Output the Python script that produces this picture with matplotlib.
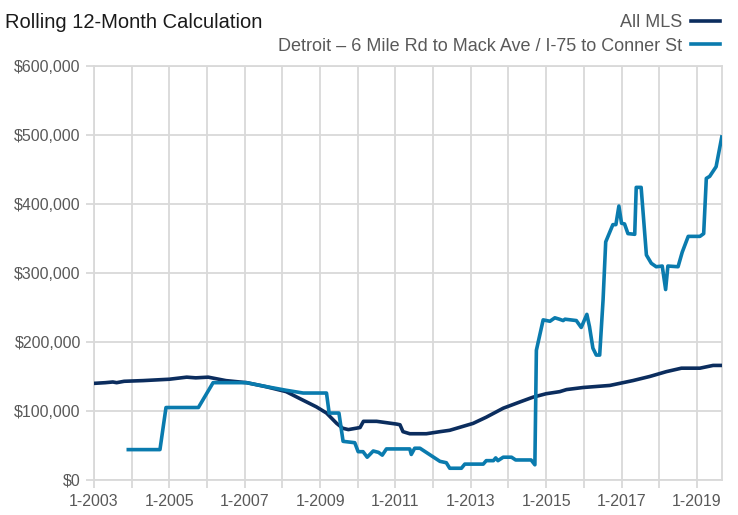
import matplotlib.pyplot as plt
from matplotlib.ticker import FuncFormatter, MultipleLocator

# All MLS rolling 12-month values (decimal year, $ thousands)
mls_year = [2003.0, 2003.3, 2003.5, 2003.6, 2003.8, 2004.3, 2005.0, 2005.46, 2005.7, 2006.03,
            2006.5, 2007.05, 2007.58, 2008.1, 2008.46, 2008.9, 2009.17, 2009.44, 2009.6, 2009.75,
            2010.06, 2010.15, 2010.5, 2011.03, 2011.12, 2011.2, 2011.38, 2011.82, 2012.18, 2012.44,
            2013.06, 2013.41, 2013.86, 2014.3, 2014.65, 2015.0, 2015.36, 2015.54, 2015.98, 2016.69,
            2017.3, 2017.75, 2018.19, 2018.59, 2019.08, 2019.43, 2019.66]
mls_val = [140, 141, 142, 141, 143, 144, 146, 149, 148, 149,
           144, 141, 135, 128, 118, 106, 97, 82, 75, 73,
           76, 85, 85, 81, 80, 70, 67, 67, 70, 72,
           82, 91, 104, 113, 120, 125, 128, 131, 134, 137,
           144, 150, 157, 162, 162, 166, 166]

# Detroit - 6 Mile Rd to Mack Ave / I-75 to Conner St
det_year = [2003.91, 2004.75, 2004.91, 2005.77, 2006.16, 2007.05, 2007.6, 2008.1, 2008.55, 2009.17,
            2009.24, 2009.5, 2009.61, 2009.92, 2010.01, 2010.14, 2010.25, 2010.41, 2010.55, 2010.65,
            2010.76, 2011.38, 2011.42, 2011.51, 2011.65, 2012.18, 2012.35, 2012.44, 2012.75, 2012.84,
            2013.33, 2013.41, 2013.6, 2013.66, 2013.72, 2013.86, 2014.08, 2014.19, 2014.6, 2014.7,
            2014.74, 2014.92, 2015.1, 2015.23, 2015.35, 2015.45, 2015.5, 2015.8, 2015.93, 2016.08,
            2016.15, 2016.24, 2016.33, 2016.42, 2016.51, 2016.58, 2016.77, 2016.85, 2016.93, 2017.0,
            2017.08, 2017.17, 2017.35, 2017.39, 2017.52, 2017.66, 2017.79, 2017.92, 2018.08, 2018.17,
            2018.23, 2018.5, 2018.61, 2018.77, 2019.08, 2019.18, 2019.25, 2019.34, 2019.51, 2019.66]
det_val = [44, 44, 105, 105, 141, 141, 135, 130, 126, 126,
           97, 97, 56, 54, 41, 41, 33, 42, 40, 36,
           45, 45, 37, 46, 46, 27, 25, 17, 17, 23,
           23, 28, 28, 32, 28, 33, 33, 29, 29, 22,
           188, 232, 230, 235, 233, 231, 233, 231, 221, 240,
           222, 191, 181, 181, 261, 345, 370, 370, 397, 372,
           371, 357, 356, 424, 424, 326, 314, 309, 310, 276,
           310, 309, 330, 353, 353, 357, 437, 440, 454, 497]

tick_years = list(range(2003, 2020, 2))

plt.rcParams['font.family'] = ['Liberation Sans Narrow', 'Liberation Sans', 'DejaVu Sans']

grid_c = '#D9D9D9'
txt_c = '#595959'

fig = plt.figure(figsize=(7.38, 5.15), dpi=100)
ax = fig.add_axes([0.1274, 0.068, 0.978 - 0.1274, 0.872 - 0.068])

ax.plot(mls_year, [v * 1000 for v in mls_val], color='#0B2D5E', lw=2.6, label='All MLS',
        solid_joinstyle='round', zorder=3)
ax.plot(det_year, [v * 1000 for v in det_val], color='#0A7BAE', lw=2.6,
        label='Detroit – 6 Mile Rd to Mack Ave / I-75 to Conner St', solid_joinstyle='round', zorder=3)

ax.set_xlim(2003, 2019.66)
ax.set_ylim(0, 600000)
ax.set_xticks(range(2003, 2020))
ax.set_xticklabels(["1-%d" % y if y in tick_years else "" for y in range(2003, 2020)])
ax.yaxis.set_major_locator(MultipleLocator(100000))
ax.yaxis.set_major_formatter(FuncFormatter(lambda v, p: "${:,.0f}".format(v)))

ax.grid(True, color=grid_c, lw=1.3, zorder=0)
for s in ax.spines.values():
    s.set_color(grid_c)
    s.set_linewidth(1.3)
ax.tick_params(axis='both', colors=grid_c, length=6, width=1.3, labelcolor=txt_c, labelsize=11.5)
ax.tick_params(axis='x', pad=4)

fig.text(0.007, 0.975, 'Rolling 12-Month Calculation', fontsize=14.5, color='#1a1a1a',
         ha='left', va='top')

leg = ax.legend(loc='upper right', bbox_to_anchor=(0.995, 1.0), bbox_transform=fig.transFigure,
                frameon=False, markerfirst=False, fontsize=13, handlelength=1.6,
                labelspacing=0.35, borderaxespad=0.4, handletextpad=0.5)
for t in leg.get_texts():
    t.set_color(txt_c)

fig.savefig('out.png', dpi=100)
